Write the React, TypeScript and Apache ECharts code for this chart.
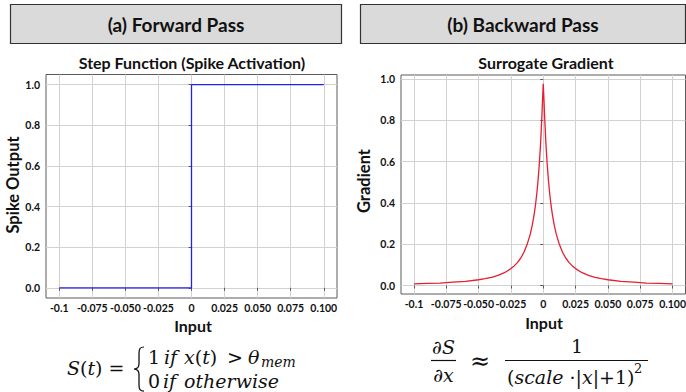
import React, { useEffect, useRef } from "react";
import * as echarts from "echarts";

// ---------- data ----------
const xTicks = [-0.1, -0.075, -0.05, -0.025, 0, 0.025, 0.05, 0.075, 0.1];
const xTickLabels = ["-0.1", "-0.075", "-0.050", "-0.025", "0", "0.025", "0.050", "0.075", "0.100"];
const yTicks = [0, 0.2, 0.4, 0.6, 0.8, 1.0];
const yTickLabels = ["0.0", "0.2", "0.4", "0.6", "0.8", "1.0"];

// (a) step function
const stepX = [-0.1, 0, 0, 0.1];
const stepY = [0, 0, 1, 1];

// (b) surrogate gradient
const gradX = [
  -0.1, -0.09, -0.08, -0.07, -0.06, -0.05, -0.045, -0.04, -0.035, -0.03, -0.025, -0.0225, -0.02,
  -0.0175, -0.015, -0.0125, -0.01, -0.0085, -0.007, -0.006, -0.005, -0.004, -0.003, -0.002, -0.001,
  -0.0005, 0, 0.0005, 0.001, 0.002, 0.003, 0.004, 0.005, 0.006, 0.007, 0.0085, 0.01, 0.0125, 0.015,
  0.0175, 0.02, 0.0225, 0.025, 0.03, 0.035, 0.04, 0.045, 0.05, 0.06, 0.07, 0.08, 0.09, 0.1,
];
const gradY = [
  0.008, 0.01, 0.012, 0.016, 0.02, 0.028, 0.033, 0.04, 0.049, 0.062, 0.082, 0.095, 0.111,
  0.132, 0.16, 0.198, 0.25, 0.292, 0.346, 0.39, 0.444, 0.51, 0.592, 0.694, 0.826,
  0.907, 0.976, 0.907, 0.826, 0.694, 0.592, 0.51, 0.444, 0.39, 0.346, 0.292, 0.25, 0.198, 0.16,
  0.132, 0.111, 0.095, 0.082, 0.062, 0.049, 0.04, 0.033, 0.028, 0.02, 0.016, 0.012, 0.01, 0.008,
];

const titles = ["(a) Forward Pass", "(b) Backward Pass"];
const subTitles = ["Step Function (Spike Activation)", "Surrogate Gradient"];
const yNames = ["Spike Output", "Gradient"];
const xName = "Input";

// brace path
echarts.graphic.registerShape(
  "brace",
  echarts.graphic.extendPath(
    "M10 0 C6 0 5 2 5 7 L5 18 C5 22 3 24 0 24 C3 24 5 26 5 30 L5 41 C5 46 6 48 10 48",
    {}
  ) as any
);

const SANS = "Lato";
const SERIF = "DejaVu Serif";
const GRID_COLOR = "#d2d2d2";
const BORDER_COLOR = "#5a5a5a";

function fmtFrom(ticks: number[], labels: string[]) {
  return (v: number) => {
    const i = ticks.findIndex((t) => Math.abs(t - v) < 1e-9);
    return i >= 0 ? labels[i] : "";
  };
}

function xAxisCfg(gridIndex: number) {
  return {
    type: "value",
    gridIndex,
    min: -0.11,
    max: 0.11,
    axisLine: { show: false },
    axisTick: { show: true, length: 3, customValues: xTicks, lineStyle: { color: BORDER_COLOR } },
    axisLabel: {
      customValues: xTicks,
      formatter: fmtFrom(xTicks, xTickLabels),
      fontSize: 10.5,
      fontWeight: "bold",
      fontFamily: SANS,
      color: "#111",
      margin: 4,
    },
    splitLine: { show: true, lineStyle: { color: GRID_COLOR, width: 1 } },
  };
}

function yAxisCfg(gridIndex: number, min: number, max: number) {
  return {
    type: "value",
    gridIndex,
    min,
    max,
    axisLine: { show: false },
    axisTick: { show: true, length: 3, customValues: yTicks, lineStyle: { color: BORDER_COLOR } },
    axisLabel: {
      customValues: yTicks,
      formatter: fmtFrom(yTicks, yTickLabels),
      fontSize: 10.5,
      fontWeight: "bold",
      fontFamily: SANS,
      color: "#111",
      margin: 6,
    },
    splitLine: { show: true, lineStyle: { color: GRID_COLOR, width: 1 } },
  };
}

function txt(text: string, x: number, y: number, opts: any = {}) {
  return {
    type: "text",
    x,
    y,
    rotation: opts.rotation || 0,
    style: {
      text,
      fill: "#111",
      fontFamily: opts.fontFamily || SANS,
      fontSize: opts.fontSize || 12,
      fontWeight: opts.fontWeight || "normal",
      fontStyle: opts.fontStyle || "normal",
      textAlign: opts.align || "center",
      textVerticalAlign: "middle",
      rich: opts.rich,
    },
  };
}

const mathRich = (size: number) => ({
  i: { fontFamily: SERIF, fontStyle: "italic", fontSize: size, fill: "#111" },
  u: { fontFamily: SERIF, fontStyle: "normal", fontSize: size, fill: "#111" },
});

export default function App() {
  const ref = useRef<HTMLDivElement>(null);
  useEffect(() => {
    if (!ref.current) return;
    const chart = echarts.init(ref.current, undefined, { renderer: "svg" });
    const F = 19;
    const graphic: any[] = [
      // header boxes
      {
        type: "rect",
        shape: { x: 10.5, y: 4.5, width: 331, height: 39 },
        style: { fill: "#dadada", stroke: "#333", lineWidth: 1.2 },
      },
      {
        type: "rect",
        shape: { x: 360.5, y: 4.5, width: 325, height: 39 },
        style: { fill: "#dadada", stroke: "#333", lineWidth: 1.2 },
      },
      txt(titles[0], 176, 24, { fontSize: 19, fontWeight: "bold" }),
      txt(titles[1], 523, 24, { fontSize: 19, fontWeight: "bold" }),
      txt(subTitles[0], 192, 62, { fontSize: 16, fontWeight: "bold" }),
      txt(subTitles[1], 546, 62, { fontSize: 16, fontWeight: "bold" }),
      txt(yNames[0], 12.5, 185, { fontSize: 16.5, fontWeight: "bold", rotation: Math.PI / 2 }),
      txt(yNames[1], 364, 181, { fontSize: 16.5, fontWeight: "bold", rotation: Math.PI / 2 }),
      txt(xName, 193, 325, { fontSize: 16, fontWeight: "bold" }),
      txt(xName, 544, 322, { fontSize: 16, fontWeight: "bold" }),

      // left formula
      txt("{i|S}{u|(}{i|t}{u|) =}", 67, 368, { align: "left", rich: mathRich(F) }),
      {
        type: "brace",
        x: 134,
        y: 347,
        scaleX: 1,
        scaleY: 0.92,
        style: { fill: "none", stroke: "#111", lineWidth: 1.3 },
      },
      txt("{u|1}", 148, 357, { align: "left", rich: mathRich(F) }),
      txt("{i|if}", 164, 357, { align: "left", rich: mathRich(F) }),
      txt("{i|x}{u|(}{i|t}{u|)}", 184, 357, { align: "left", rich: mathRich(F) }),
      txt("{u|>}", 227, 357, { align: "left", rich: mathRich(F) }),
      txt("{i|θ}", 248, 357, { align: "left", rich: mathRich(F) }),
      txt("{i|mem}", 261, 362, { align: "left", rich: mathRich(14) }),
      txt("{u|0}", 148, 381, { align: "left", rich: mathRich(F) }),
      txt("{i|if}", 163, 381, { align: "left", rich: mathRich(F) }),
      txt("{i|otherwise}", 184, 381, { align: "left", rich: mathRich(F) }),

      // right formula
      txt("{u|∂}{i|S}", 443.5, 347, { rich: mathRich(F) }),
      {
        type: "line",
        shape: { x1: 431, y1: 360.5, x2: 456, y2: 360.5 },
        style: { stroke: "#111", lineWidth: 1.2 },
      },
      txt("{u|∂}{i|x}", 443.5, 375, { rich: mathRich(F) }),
      txt("{u|≈}", 480, 361, { rich: mathRich(24) }),
      txt("{u|1}", 577, 346, { rich: mathRich(F) }),
      {
        type: "line",
        shape: { x1: 505, y1: 360.5, x2: 648, y2: 360.5 },
        style: { stroke: "#111", lineWidth: 1.2 },
      },
      txt("{u|(}{i|scale}{u| ·|}{i|x}{u||+1)}", 507, 377, { align: "left", rich: mathRich(F) }),
      txt("{u|2}", 634, 368, { align: "left", rich: mathRich(13) }),
    ];

    chart.setOption({
      animation: false,
      backgroundColor: "#ffffff",
      grid: [
        {
          left: 46,
          top: 74.5,
          width: 291,
          height: 223.5,
          show: true,
          borderColor: BORDER_COLOR,
          borderWidth: 1,
          backgroundColor: "#fff",
          containLabel: false,
          outerBoundsMode: "none",
        },
        {
          left: 401,
          top: 75,
          width: 284.5,
          height: 219,
          show: true,
          borderColor: BORDER_COLOR,
          borderWidth: 1,
          backgroundColor: "#fff",
          containLabel: false,
          outerBoundsMode: "none",
        },
      ],
      xAxis: [xAxisCfg(0), xAxisCfg(1)],
      yAxis: [yAxisCfg(0, -0.05, 1.05), yAxisCfg(1, -0.041, 1.019)],
      series: [
        {
          type: "line",
          xAxisIndex: 0,
          yAxisIndex: 0,
          data: stepX.map((x, i) => [x, stepY[i]]),
          showSymbol: false,
          lineStyle: { color: "#2323e6", width: 1.3 },
        },
        {
          type: "line",
          xAxisIndex: 1,
          yAxisIndex: 1,
          data: gradX.map((x, i) => [x, gradY[i]]),
          showSymbol: false,
          lineStyle: { color: "#e61e2d", width: 1.3 },
        },
      ],
      graphic,
    } as any);
    return () => chart.dispose();
  }, []);
  return (
    <div
      ref={ref}
      style={{ position: "absolute", left: 0, top: 0, width: 686, height: 392 }}
    />
  );
}
